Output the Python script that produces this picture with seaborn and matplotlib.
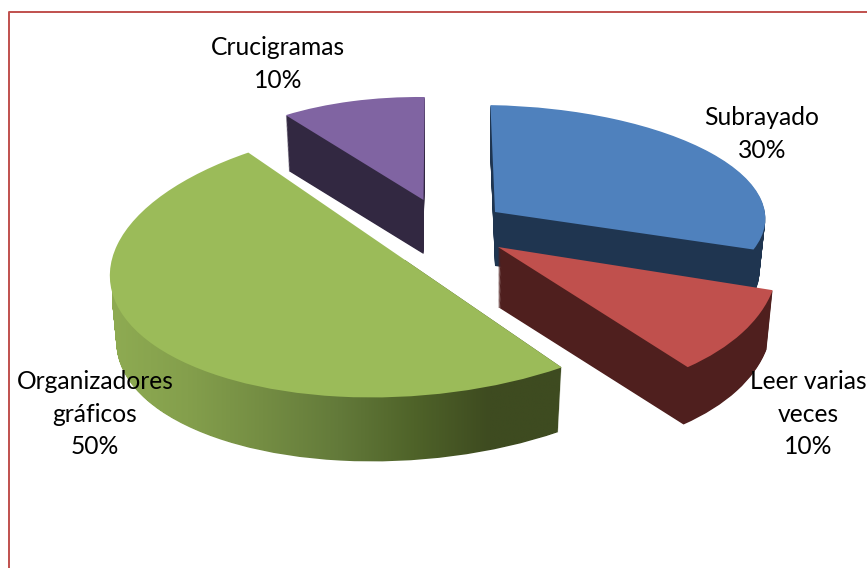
import numpy as np
import seaborn as sns
import matplotlib
matplotlib.use("Agg")
import matplotlib.pyplot as plt
from matplotlib.path import Path
from matplotlib.patches import PathPatch
from matplotlib.transforms import Affine2D

categorias = ["Subrayado", "Leer varias\nveces", "Organizadores\ngráficos", "Crucigramas"]
valores = [30, 10, 50, 10]

colores = ["#4f81bd", "#c0504d", "#9bbb59", "#8064a2"]
lados = ["#1f3550", "#4f1f1e", "#3e4b20", "#322841"]
# vista 3D de cada porcion: a, b, c, d, centro x, centro y, profundidad
vista = [
    (270, -14, -1, 107, 495, 212, 54),
    (277, -42, 9, 151, 498, 247, 60),
    (295, 10, 11, 137, 405, 260, 67),
    (236, -7, 1, 103, 423.5, 200, 54),
]
orden = [1, 3, 4, 2]  # de atras hacia adelante
pos_texto = [(762, 134), (808, 414), (95, 414), (278, 64)]

sns.set_theme(style="white")
plt.rcParams['font.family'] = ['Lato', 'DejaVu Sans']

fig = plt.figure(figsize=(8.67, 5.68), dpi=100, facecolor="white")
ax = fig.add_axes([0, 0, 1, 1])


def matriz(i, t):
    a, b, c, d, x0, y0, prof = vista[i]
    k = 1 - 0.022 * t  # la cara de abajo queda un poco mas chica
    return Affine2D(np.array([[a * k, b * k, x0],
                              [-c * k, -d * k, y0 + prof * t],
                              [0, 0, 1]]))


caminos_verde = []
for t in np.linspace(1, 0, 68):
    wedges, _ = ax.pie(valores, startangle=88, counterclock=False, radius=1,
                       colors=colores if t == 0 else lados)
    for i, w in enumerate(wedges):
        T = matriz(i, t)
        if i == 2:
            caminos_verde.append(T.transform_path(w.get_path()))
        if i == 2 and t > 0:
            w.remove()
            continue
        w.set_transform(T + ax.transData)
        w.set_linewidth(0)
        w.set_zorder(orden[i] * 10 + (1 if t == 0 else 0))

ax.set_aspect("auto")
ax.axis("off")

# lado del verde con degradado
cmap = sns.blend_palette(["#8eab52", "#849f4c", "#748d43", "#637a3a", "#4f6329", "#3e4b20", "#3e4b20"], as_cmap=True)
img = ax.imshow(np.linspace(0, 1, 256)[None, :], cmap=cmap, extent=(112, 565, 475, 260),
                aspect="auto", zorder=40)
ax.set_xlim(0, 867)
ax.set_ylim(568, 0)
borde = PathPatch(Path.make_compound_path(*caminos_verde), transform=ax.transData,
                  facecolor="none", edgecolor="none")
ax.add_patch(borde)
img.set_clip_path(borde)

for nombre, v, (x, y) in zip(categorias, valores, pos_texto):
    ax.text(x, y, f"{nombre}\n{v}%", ha="center", va="center", fontsize=17.7,
            color="black", linespacing=1.49, zorder=60)

# marco rojo de la captura
ax.plot([8.5, 8.5, 867], [568, 11.5, 11.5], color="#c0504d", lw=1.4, zorder=70, clip_on=False)

fig.savefig("out.png", dpi=100)
